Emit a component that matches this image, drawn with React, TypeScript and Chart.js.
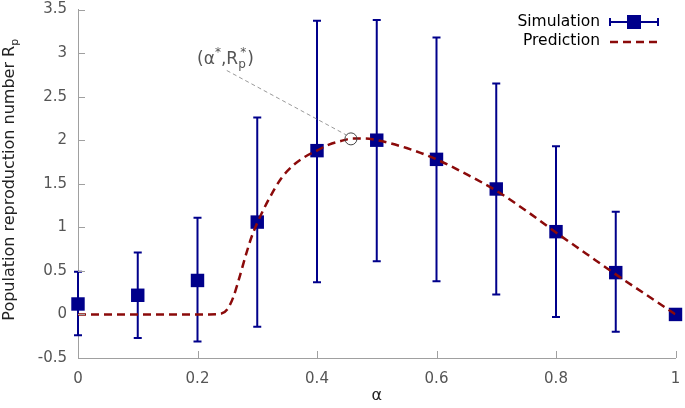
import React, { useEffect, useRef } from "react";
import { Chart, registerables } from "chart.js";

Chart.register(...registerables);

// Simulation (mean with error bars)
const simAlpha = [0, 0.1, 0.2, 0.3, 0.4, 0.5, 0.6, 0.7, 0.8, 0.9, 1.0];
const simRp = [0.12, 0.22, 0.39, 1.06, 1.88, 2.0, 1.78, 1.44, 0.95, 0.48, 0.0];
const simLow = [-0.24, -0.27, -0.31, -0.14, 0.37, 0.61, 0.38, 0.23, -0.03, -0.2, 0.0];
const simHigh = [0.49, 0.71, 1.11, 2.26, 3.37, 3.38, 3.18, 2.65, 1.93, 1.18, 0.0];

// Prediction curve
const predAlpha = [0, 0.05, 0.1, 0.15, 0.2, 0.22, 0.24, 0.25, 0.26, 0.27, 0.28, 0.29, 0.3, 0.32, 0.34, 0.36, 0.38, 0.4, 0.42, 0.44, 0.46, 0.48, 0.5, 0.55, 0.6, 0.65, 0.7, 0.75, 0.8, 0.85, 0.9, 0.95, 1.0];
const predRp = [0, 0, 0, 0, 0, 0, 0.01, 0.06, 0.2, 0.42, 0.66, 0.88, 1.05, 1.33, 1.56, 1.71, 1.81, 1.88, 1.95, 1.99, 2.02, 2.02, 2.0, 1.91, 1.78, 1.61, 1.42, 1.19, 0.94, 0.7, 0.46, 0.23, 0];

// Optimum annotation
const optAlpha = [0.4568];
const optRp = [2.015];
const leaderAlpha = [0.249, 0.449];
const leaderRp = [2.8, 2.06];
const labelAnchor = { alpha: 0.1993, rp: 2.88 };

// Axes
const xMin = 0, xMax = 1, xStep = 0.2;
const yMin = -0.5, yMax = 3.5, yStep = 0.5;
const xTicks = [0, 0.2, 0.4, 0.6, 0.8, 1];
const yTicks = [-0.5, 0, 0.5, 1, 1.5, 2, 2.5, 3, 3.5];

const NAVY = "#00008b";
const RED = "#8b0a0a";
const AXIS = "#a0a0a0";
const FONT = '"DejaVu Sans", sans-serif';

const fmt = (v: any) => String(Number(Number(v).toFixed(2)));

const customPlugin = {
  id: "custom",
  beforeDatasetsDraw(chart: any) {
    const { ctx, scales } = chart;
    const xs = scales.x, ys = scales.y;
    ctx.save();
    ctx.strokeStyle = NAVY;
    ctx.lineWidth = 2;
    for (let i = 0; i < simAlpha.length; i++) {
      if (simHigh[i] === simLow[i]) continue;
      const x = xs.getPixelForValue(simAlpha[i]);
      const y1 = ys.getPixelForValue(simLow[i]);
      const y2 = ys.getPixelForValue(simHigh[i]);
      ctx.beginPath();
      ctx.moveTo(x, y1);
      ctx.lineTo(x, y2);
      ctx.moveTo(x - 4, y1);
      ctx.lineTo(x + 4, y1);
      ctx.moveTo(x - 4, y2);
      ctx.lineTo(x + 4, y2);
      ctx.stroke();
    }
    ctx.restore();
  },
  afterDraw(chart: any) {
    const { ctx, scales, chartArea } = chart;
    const xs = scales.x, ys = scales.y;
    ctx.save();
    // inward ticks
    ctx.strokeStyle = AXIS;
    ctx.lineWidth = 1;
    ctx.beginPath();
    for (const t of xTicks) {
      const x = Math.round(xs.getPixelForValue(t)) + 0.5;
      ctx.moveTo(x, chartArea.bottom);
      ctx.lineTo(x, chartArea.bottom - 7);
    }
    for (const t of yTicks) {
      const y = Math.round(ys.getPixelForValue(t)) + 0.5;
      ctx.moveTo(chartArea.left, y);
      ctx.lineTo(chartArea.left + 7, y);
    }
    ctx.stroke();

    // annotation label (α*,Rp*)
    const ax = xs.getPixelForValue(labelAnchor.alpha);
    const ay = ys.getPixelForValue(labelAnchor.rp);
    ctx.fillStyle = "#555";
    ctx.textBaseline = "alphabetic";
    ctx.textAlign = "left";
    let cx = ax;
    const big = `17px ${FONT}`;
    const small = `12px ${FONT}`;
    const put = (s: string, font: string, dy: number) => {
      ctx.font = font;
      ctx.fillText(s, cx, ay + dy);
      cx += ctx.measureText(s).width;
    };
    put("(", big, 0);
    put("α", big, 0);
    put("*", small, -8);
    put(",", big, 0);
    put("R", big, 0);
    const pStart = cx;
    put("p", small, 4);
    cx = pStart + 2;
    put("*", small, -8);
    cx += 1;
    put(")", big, 0);

    // y title
    ctx.fillStyle = "#222";
    ctx.save();
    ctx.translate(14, (chartArea.top + chartArea.bottom) / 2 - 4);
    ctx.rotate(-Math.PI / 2);
    const main = "Population reproduction number R";
    ctx.font = `16px ${FONT}`;
    const wMain = ctx.measureText(main).width;
    ctx.font = `11px ${FONT}`;
    const wSub = ctx.measureText("p").width;
    const total = wMain + wSub;
    ctx.font = `16px ${FONT}`;
    ctx.fillText(main, -total / 2, 0);
    ctx.font = `11px ${FONT}`;
    ctx.fillText("p", -total / 2 + wMain, 4);
    ctx.restore();

    // x title
    ctx.font = `16px ${FONT}`;
    ctx.textAlign = "center";
    ctx.textBaseline = "middle";
    ctx.fillText("α", (chartArea.left + chartArea.right) / 2, 396);

    // legend
    ctx.font = `15.5px ${FONT}`;
    ctx.fillStyle = "#000";
    ctx.textAlign = "right";
    ctx.textBaseline = "middle";
    ctx.fillText("Simulation", 600, 22);
    ctx.fillText("Prediction", 600, 41);
    ctx.strokeStyle = NAVY;
    ctx.lineWidth = 2;
    ctx.beginPath();
    ctx.moveTo(610, 22);
    ctx.lineTo(658, 22);
    ctx.moveTo(610, 18);
    ctx.lineTo(610, 26);
    ctx.moveTo(658, 18);
    ctx.lineTo(658, 26);
    ctx.stroke();
    ctx.fillStyle = NAVY;
    ctx.fillRect(627, 15, 14, 14);
    ctx.strokeStyle = RED;
    ctx.lineWidth = 2.5;
    ctx.setLineDash([8, 5]);
    ctx.beginPath();
    ctx.moveTo(610, 42);
    ctx.lineTo(658, 42);
    ctx.stroke();
    ctx.restore();
  },
};

export default function App() {
  const ref = useRef<HTMLCanvasElement | null>(null);
  useEffect(() => {
    if (!ref.current) return;
    const chart = new Chart(ref.current, {
      type: "scatter",
      data: {
        datasets: [
          {
            label: "Prediction",
            data: predAlpha.map((a, i) => ({ x: a, y: predRp[i] })),
            showLine: true,
            borderColor: RED,
            borderWidth: 2.5,
            borderDash: [8, 5],
            pointRadius: 0,
            cubicInterpolationMode: "monotone",
            order: 0,
          } as any,
          {
            label: "Simulation",
            data: simAlpha.map((a, i) => ({ x: a, y: simRp[i] })),
            pointStyle: "rect",
            pointRadius: 9.5,
            backgroundColor: NAVY,
            borderColor: NAVY,
            borderWidth: 0,
            clip: false,
            order: 1,
          } as any,
          {
            label: "leader",
            data: leaderAlpha.map((a, i) => ({ x: a, y: leaderRp[i] })),
            showLine: true,
            borderColor: "#999",
            borderWidth: 1,
            borderDash: [4, 3],
            pointRadius: 0,
            order: 2,
          } as any,
          {
            label: "optimum",
            data: optAlpha.map((a, i) => ({ x: a, y: optRp[i] })),
            pointStyle: "circle",
            pointRadius: 6,
            backgroundColor: "rgba(0,0,0,0)",
            borderColor: "#444",
            borderWidth: 1,
            order: -1,
          } as any,
        ],
      },
      options: {
        animation: false,
        responsive: false,
        events: [],
        layout: { padding: { top: 7, right: 5, left: 0, bottom: 0 } },
        plugins: { legend: { display: false }, tooltip: { enabled: false } },
        scales: {
          x: {
            type: "linear",
            min: xMin,
            max: xMax,
            grid: { display: false, drawTicks: false },
            border: { display: true, color: AXIS, width: 1 },
            ticks: {
              stepSize: xStep,
              padding: 12,
              color: "#555",
              font: { family: FONT, size: 15 },
              callback: fmt,
            },
            afterFit: (s: any) => {
              s.height = 50;
              s.paddingLeft = 0;
              s.paddingRight = 0;
            },
          },
          y: {
            type: "linear",
            min: yMin,
            max: yMax,
            grid: { display: false, drawTicks: false },
            border: { display: true, color: AXIS, width: 1 },
            ticks: {
              stepSize: yStep,
              padding: 11,
              color: "#555",
              font: { family: FONT, size: 15 },
              callback: fmt,
            },
            afterFit: (s: any) => {
              s.width = 78;
              s.paddingTop = 0;
              s.paddingBottom = 0;
            },
          },
        },
      } as any,
      plugins: [customPlugin],
    });
    return () => chart.destroy();
  }, []);
  return (
    <canvas
      ref={ref}
      width={685}
      height={408}
      style={{ position: "fixed", left: 0, top: 0, display: "block" }}
    />
  );
}
